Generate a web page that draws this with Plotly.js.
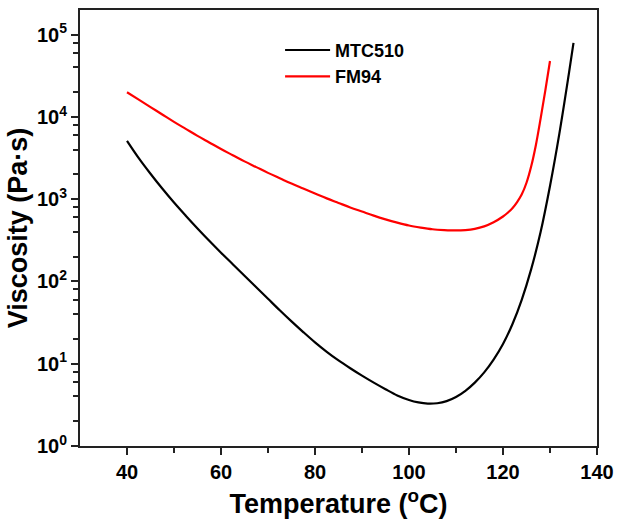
<!DOCTYPE html>
<html>
<head>
<meta charset="utf-8">
<script src="https://cdn.plot.ly/plotly-3.0.1.min.js"></script>
<style>html,body{margin:0;padding:0;background:#fff}#chart{width:617px;height:523px}</style>
</head>
<body>
<div id="chart"></div>
<script>
// MTC510 (black): temperature (°C) and log10 viscosity (Pa·s)
const mtcTemp = [40, 42.5, 45, 47.5, 50, 52.5, 55, 57.5, 60, 62.5, 65, 67.5, 70, 72.5, 75, 77.5, 80, 82.5, 85, 87.5, 90, 92.5, 95, 97.5, 100, 102, 104, 106, 108, 110, 112, 114, 116, 118, 120, 122, 124, 126, 128, 130, 132, 134, 135];
const mtcLogVisc = [3.71, 3.50, 3.31, 3.13, 2.96, 2.80, 2.645, 2.495, 2.35, 2.21, 2.07, 1.93, 1.79, 1.65, 1.515, 1.385, 1.26, 1.145, 1.04, 0.945, 0.855, 0.77, 0.69, 0.615, 0.56, 0.53, 0.515, 0.52, 0.545, 0.595, 0.67, 0.77, 0.895, 1.05, 1.24, 1.48, 1.78, 2.15, 2.60, 3.16, 3.80, 4.52, 4.90];
// FM94 (red)
const fmTemp = [40, 42.5, 45, 47.5, 50, 52.5, 55, 57.5, 60, 62.5, 65, 67.5, 70, 72.5, 75, 77.5, 80, 82.5, 85, 87.5, 90, 92.5, 95, 97.5, 100, 102.5, 105, 107.5, 110, 112, 114, 116, 118, 120, 121, 122, 123, 124, 125, 126, 127, 128, 129, 130];
const fmLogVisc = [4.30, 4.21, 4.12, 4.03, 3.94, 3.855, 3.77, 3.69, 3.61, 3.535, 3.46, 3.39, 3.32, 3.255, 3.19, 3.13, 3.07, 3.01, 2.955, 2.90, 2.85, 2.80, 2.755, 2.715, 2.68, 2.655, 2.635, 2.625, 2.62, 2.625, 2.64, 2.67, 2.72, 2.79, 2.835, 2.89, 2.965, 3.06, 3.20, 3.40, 3.66, 3.98, 4.32, 4.68];
const xTickVals = [40, 60, 80, 100, 120, 140];
const xMinorVals = [50, 70, 90, 110, 130];
const yTickVals = [1, 10, 100, 1000, 10000, 100000];
const yTickText = ['10<sup>0</sup>', '10<sup>1</sup>', '10<sup>2</sup>', '10<sup>3</sup>', '10<sup>4</sup>', '10<sup>5</sup>'];
const yMinorMantissas = [2, 4, 6, 8];

const yMinorVals = [];
yTickVals.forEach(d => yMinorMantissas.forEach(m => yMinorVals.push(d * m)));
const pow = a => a.map(v => Math.pow(10, v));
const FAM = 'Liberation Sans, Arial, sans-serif';

const traces = [
  {x: mtcTemp, y: pow(mtcLogVisc), name: 'MTC510', mode: 'lines', line: {color: '#000000', width: 2.2, shape: 'spline', smoothing: 1}},
  {x: fmTemp, y: pow(fmLogVisc), name: 'FM94', mode: 'lines', line: {color: '#ff0000', width: 2.2, shape: 'spline', smoothing: 1}}
];

const axisCommon = {
  ticks: 'outside', ticklen: 7, tickwidth: 2, tickcolor: '#222',
  showline: true, linewidth: 2, linecolor: '#222', mirror: true,
  showgrid: false, zeroline: false,
  tickfont: {family: FAM, size: 20, color: '#000', weight: 'bold'}
};

const layout = {
  width: 617, height: 523,
  margin: {l: 80, r: 20, t: 10, b: 77},
  paper_bgcolor: '#fff', plot_bgcolor: '#fff',
  font: {family: FAM, color: '#000'},
  showlegend: true,
  legend: {x: 0.387, y: 0.95, xanchor: 'left', yanchor: 'top', bgcolor: 'rgba(0,0,0,0)', itemwidth: 45,
           font: {family: FAM, size: 18, color: '#000', weight: 'bold'}},
  xaxis: Object.assign({}, axisCommon, {
    range: [30, 140], tickmode: 'array', tickvals: xTickVals,
    minor: {tickmode: 'array', tickvals: xMinorVals, ticks: 'outside', ticklen: 5, tickwidth: 2, tickcolor: '#222'},
    title: {text: 'Temperature (<sup>o</sup>C)', standoff: 12, font: {family: FAM, size: 27, color: '#000', weight: 'bold'}}
  }),
  yaxis: Object.assign({}, axisCommon, {
    type: 'log', range: [0, 5.3],
    tickmode: 'array', tickvals: yTickVals, ticktext: yTickText,
    minor: {tickmode: 'array', tickvals: yMinorVals, ticks: 'outside', ticklen: 5, tickwidth: 2, tickcolor: '#222'},
    title: {text: 'Viscosity (Pa·s)', standoff: 2, font: {family: FAM, size: 27, color: '#000', weight: 'bold'}}
  })
};
Plotly.newPlot('chart', traces, layout, {displayModeBar: false, staticPlot: true});
</script>
</body>
</html>
